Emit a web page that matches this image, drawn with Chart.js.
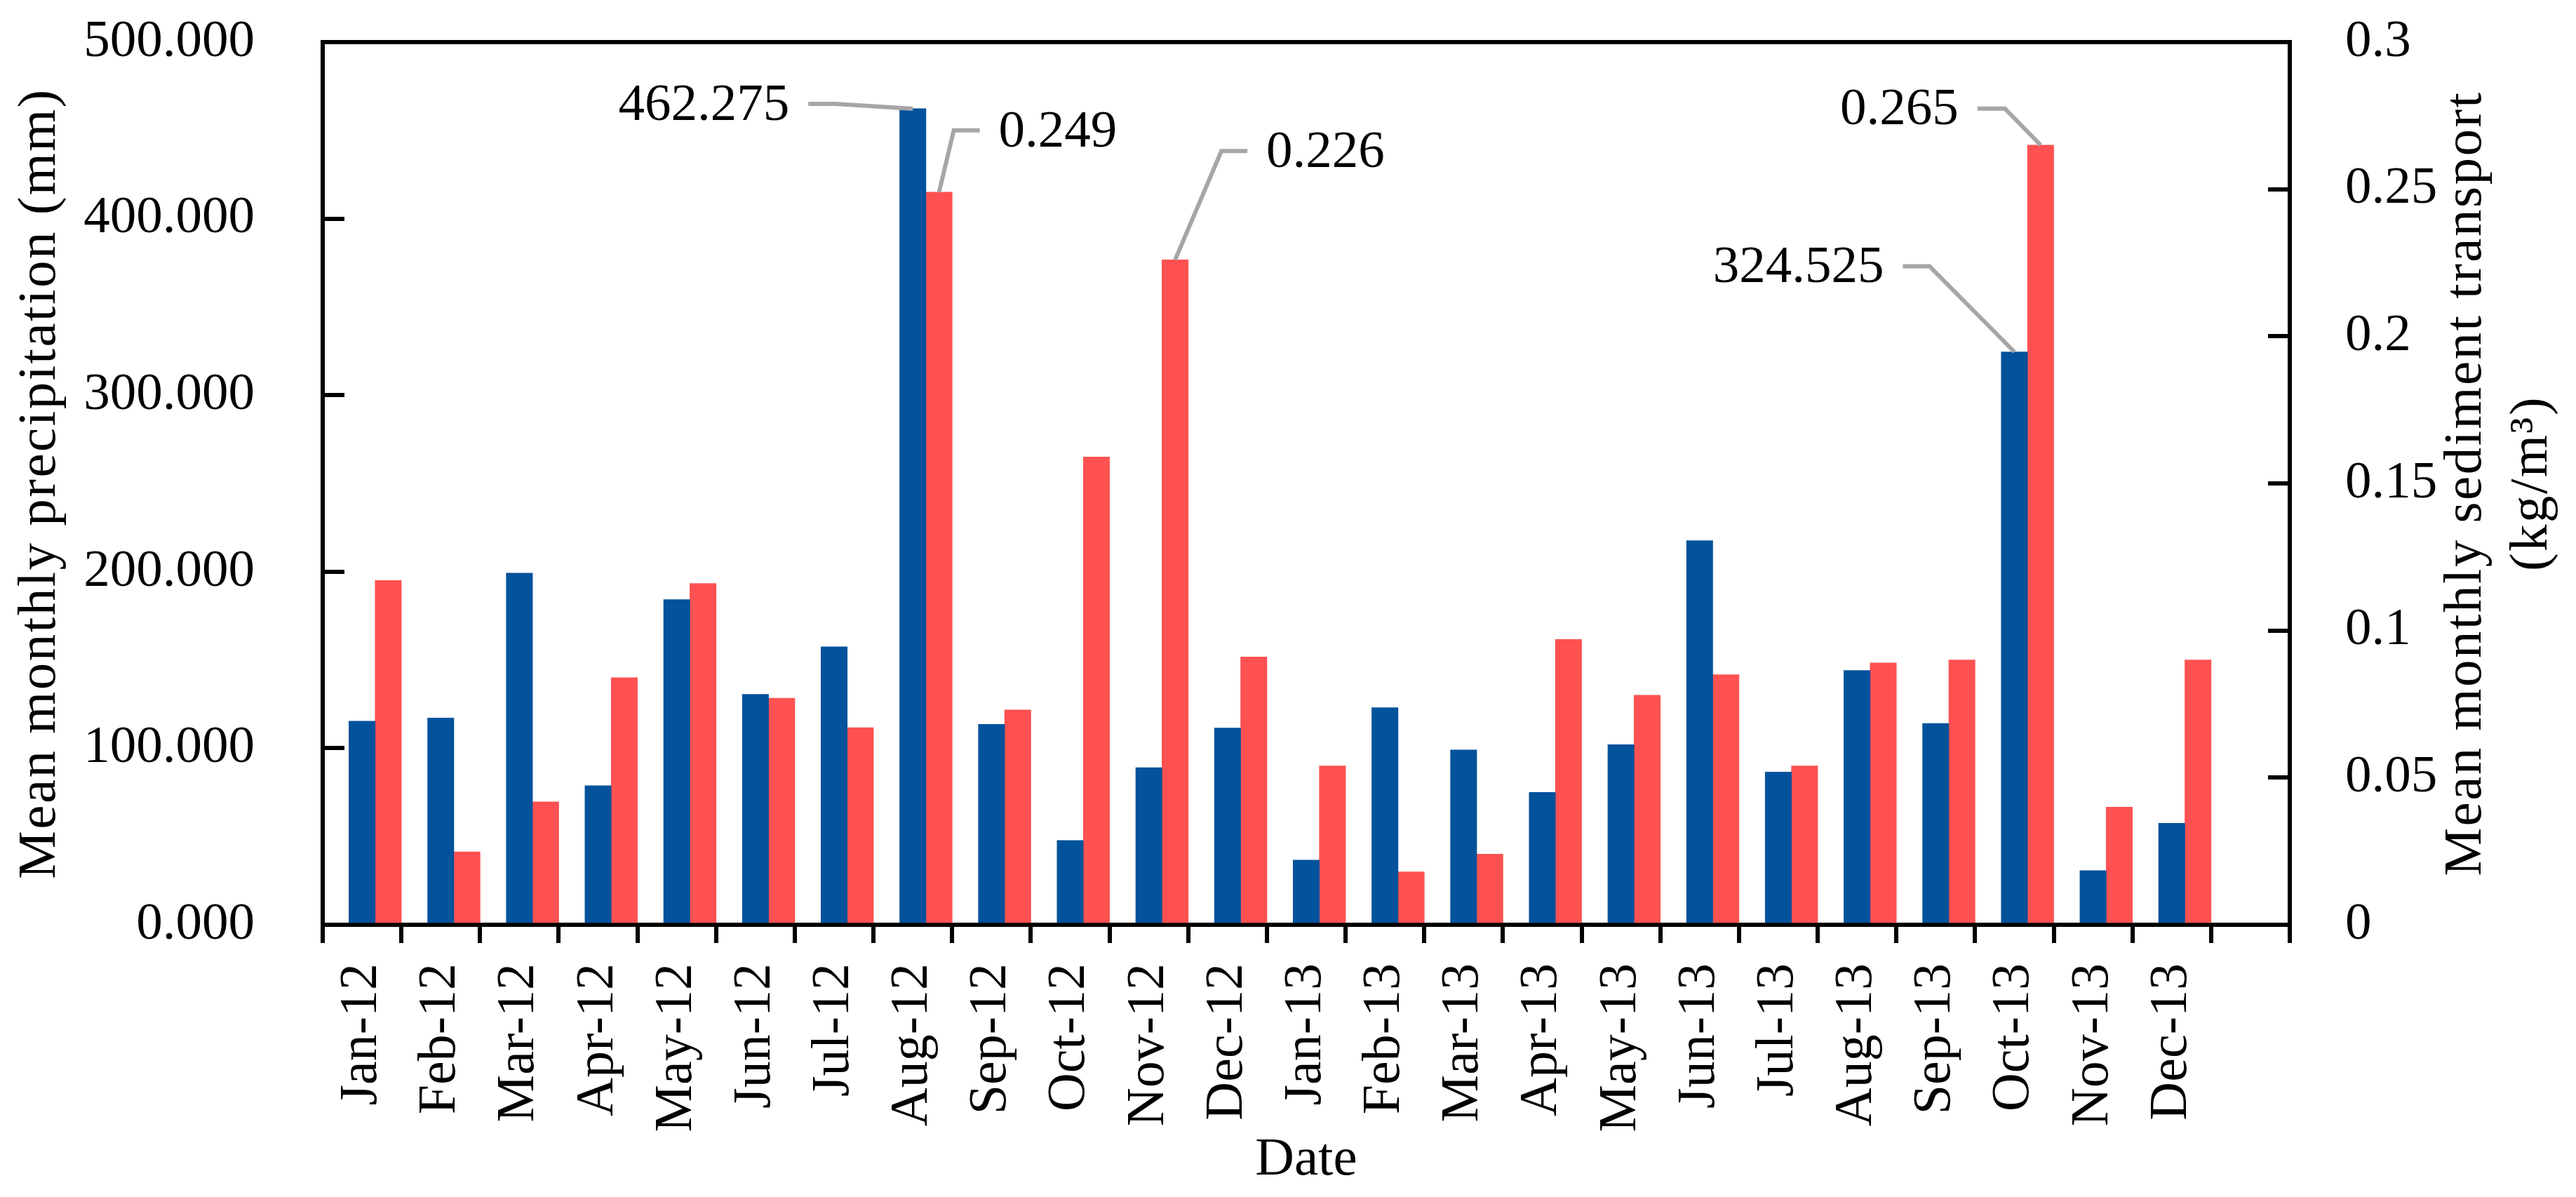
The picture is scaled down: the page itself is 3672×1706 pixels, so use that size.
<!DOCTYPE html>
<html>
<head>
<meta charset="utf-8">
<script src="https://cdn.jsdelivr.net/npm/chart.js@4.4.1/dist/chart.umd.min.js"></script>
<style>
  html, body { margin: 0; padding: 0; background: #ffffff; }
  #wrap { width: 3672px; height: 1706px; }
</style>
</head>
<body>
<div id="wrap"><canvas id="c" width="3672" height="1706"></canvas></div>
<script>
// ---- data ----
const months = ['Jan-12','Feb-12','Mar-12','Apr-12','May-12','Jun-12','Jul-12','Aug-12','Sep-12','Oct-12','Nov-12','Dec-12',
                'Jan-13','Feb-13','Mar-13','Apr-13','May-13','Jun-13','Jul-13','Aug-13','Sep-13','Oct-13','Nov-13','Dec-13'];
const categoryLabels = months.concat(['']);   // trailing empty category, as in the original axis
const precipitation = [115.3, 117.1, 199.2, 78.8, 184.2, 130.5, 157.5, 462.275, 113.5, 47.8, 89.0, 111.5,
                       36.6, 123.0, 99.0, 75.0, 102.0, 217.6, 86.5, 144.0, 114.0, 324.525, 30.7, 57.5];
const sediment = [0.117, 0.0248, 0.0418, 0.084, 0.116, 0.077, 0.067, 0.249, 0.073, 0.159, 0.226, 0.091,
                  0.054, 0.018, 0.024, 0.097, 0.078, 0.085, 0.054, 0.089, 0.090, 0.265, 0.040, 0.090];
const spacer = [];
const leftTicks = { min: 0, max: 500, step: 100 };
const rightTicks = { min: 0, max: 0.3, step: 0.05 };
const leftTitle = 'Mean monthly precipitation (mm)';
const rightTitle = ['Mean monthly sediment transport', '(kg/m\u00B3)'];

// callouts: dataset index (1 = precipitation, 2 = sediment), point index, leader geometry relative to bar top
const callouts = [
  { dataset: 1, index: 7,  elbow: [-111, -7],   start: -149 },
  { dataset: 2, index: 7,  elbow: [21, -88],    start: 58 },
  { dataset: 2, index: 10, elbow: [66, -155],   start: 103 },
  { dataset: 2, index: 21, elbow: [-51, -52],   start: -90 },
  { dataset: 1, index: 21, elbow: [-121, -122], start: -159 }
];

const FONT = "'Liberation Serif', 'Times New Roman', serif";
const TICK_SIZE = 75;
const TITLE_SIZE = 77;

const calloutPlugin = {
  id: 'callouts',
  afterDatasetsDraw(chart) {
    const ctx = chart.ctx;
    ctx.save();
    callouts.forEach(c => {
      const el = chart.getDatasetMeta(c.dataset).data[c.index];
      const v = chart.data.datasets[c.dataset].data[c.index];
      const bx = el.x, by = el.y;
      const ex = bx + c.elbow[0], ey = by + c.elbow[1];
      const sx = bx + c.start;
      ctx.strokeStyle = '#A6A6A6';
      ctx.lineWidth = 6;
      ctx.lineJoin = 'miter';
      ctx.beginPath();
      ctx.moveTo(sx, ey);
      ctx.lineTo(ex, ey);
      ctx.lineTo(bx, by);
      ctx.stroke();
      ctx.fillStyle = '#000000';
      ctx.font = TICK_SIZE + 'px ' + FONT;
      ctx.textBaseline = 'middle';
      const leftSide = c.start < 0;
      ctx.textAlign = leftSide ? 'right' : 'left';
      ctx.fillText(v.toFixed(3), sx + (leftSide ? -27 : 27), ey + 3);
    });
    ctx.restore();
  }
};

function drawRotatedTitle(ctx, lines, x, y, lineGap) {
  ctx.save();
  ctx.fillStyle = '#000000';
  ctx.font = TITLE_SIZE + 'px ' + FONT;
  try { ctx.letterSpacing = '2.5px'; } catch (e) {}
  ctx.textAlign = 'center';
  ctx.textBaseline = 'middle';
  ctx.translate(x, y);
  ctx.rotate(-Math.PI / 2);
  lines.forEach((t, i) => ctx.fillText(t, 0, i * lineGap));
  ctx.restore();
}

const framePlugin = {
  id: 'frame',
  afterDraw(chart) {
    const a = chart.chartArea, ctx = chart.ctx;
    ctx.save();
    ctx.strokeStyle = '#000000';
    ctx.lineWidth = 6;
    ctx.lineCap = 'butt';
    // top border of the plot frame
    ctx.beginPath();
    ctx.moveTo(a.left - 3, a.top);
    ctx.lineTo(a.right + 3, a.top);
    ctx.stroke();
    // inward tick marks on both value axes, at the scales' own tick positions
    const yl = chart.scales.y, yr = chart.scales.y1;
    ctx.beginPath();
    yl.ticks.forEach(t => {
      const py = Math.round(yl.getPixelForValue(t.value));
      ctx.moveTo(a.left, py); ctx.lineTo(a.left + 31, py);
    });
    yr.ticks.forEach(t => {
      const py = Math.round(yr.getPixelForValue(t.value));
      ctx.moveTo(a.right, py); ctx.lineTo(a.right - 31, py);
    });
    ctx.stroke();
    ctx.restore();
    const cy = (a.top + a.bottom) / 2;
    drawRotatedTitle(ctx, [leftTitle], 58, cy, 0);
    drawRotatedTitle(ctx, rightTitle, 3516, cy, 94);
  }
};

function fixY(width) {
  return function (s) {
    s.width = width;
    s.paddingTop = 0;
    s.paddingBottom = 0;
  };
}

new Chart(document.getElementById('c'), {
  type: 'bar',
  data: {
    labels: categoryLabels,
    datasets: [
      { label: '', data: spacer, yAxisID: 'y', backgroundColor: 'rgba(0,0,0,0)' },
      { label: 'Mean monthly precipitation (mm)', data: precipitation, yAxisID: 'y', backgroundColor: '#02529C' },
      { label: 'Mean monthly sediment transport (kg/m3)', data: sediment, yAxisID: 'y1', backgroundColor: '#FF5151' }
    ]
  },
  options: {
    responsive: false,
    devicePixelRatio: 1,
    animation: false,
    datasets: { bar: { categoryPercentage: 1.0, barPercentage: 1.0, borderWidth: 0 } },
    layout: { padding: { top: 60, left: 0, right: 0, bottom: 0 } },
    plugins: { legend: { display: false }, tooltip: { enabled: false } },
    scales: {
      x: {
        type: 'category',
        offset: true,
        grid: { display: true, drawOnChartArea: false, drawTicks: true, tickLength: 26, offset: true, color: '#000000', lineWidth: 6 },
        border: { display: true, color: '#000000', width: 6 },
        ticks: { autoSkip: false, maxRotation: 90, minRotation: 90, padding: 29, color: '#000000', font: { family: FONT, size: TICK_SIZE + 1 } },
        title: { display: true, text: 'Date', color: '#000000', font: { family: FONT, size: TITLE_SIZE }, padding: { top: 0, bottom: 6 } },
        afterFit(s) { s.height = 388; s.paddingLeft = 0; s.paddingRight = 0; }
      },
      y: {
        position: 'left',
        min: leftTicks.min, max: leftTicks.max,
        grid: { display: true, drawOnChartArea: false, drawTicks: false, color: '#000000', lineWidth: 6 },
        border: { display: true, color: '#000000', width: 6 },
        ticks: { stepSize: leftTicks.step, padding: 97, color: '#000000', font: { family: FONT, size: TICK_SIZE },
                 callback: v => Number(v).toFixed(3) },
        title: { display: false },
        afterFit: fixY(460)
      },
      y1: {
        position: 'right',
        min: rightTicks.min, max: rightTicks.max,
        grid: { display: true, drawOnChartArea: false, drawTicks: false, color: '#000000', lineWidth: 6 },
        border: { display: true, color: '#000000', width: 6 },
        ticks: { stepSize: rightTicks.step, padding: 79, color: '#000000', font: { family: FONT, size: TICK_SIZE },
                 callback: v => String(parseFloat(Number(v).toFixed(2))) },
        title: { display: false },
        afterFit: fixY(408)
      }
    }
  },
  plugins: [calloutPlugin, framePlugin]
});
</script>
</body>
</html>
